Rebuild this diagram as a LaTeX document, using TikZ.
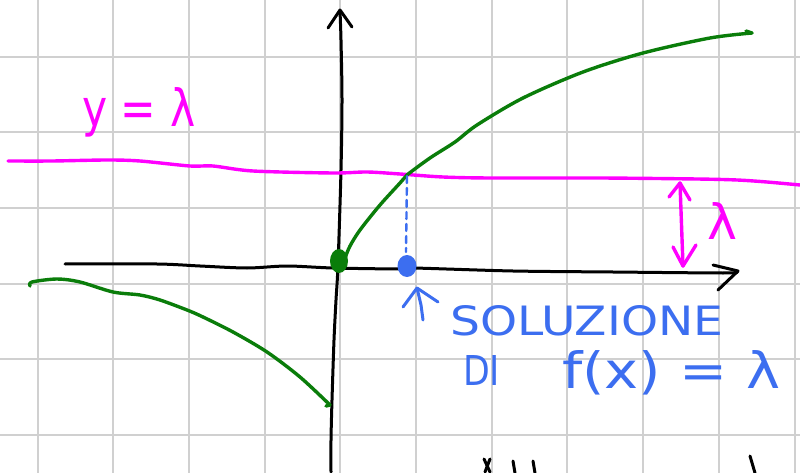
\documentclass[tikz,border=0pt]{standalone}
\usepackage{fontspec}
\setmainfont{DejaVu Sans}
\usepackage{graphicx}
\definecolor{gridgray}{RGB}{208,208,208}
\definecolor{mag}{RGB}{255,0,255}
\definecolor{grn}{RGB}{10,125,10}
\definecolor{blu}{RGB}{60,110,240}
\tikzset{
  gridline/.style={draw=gridgray,line width=2pt},
  axisline/.style={draw=black,line width=3pt,line cap=round,line join=round},
  curveline/.style={draw=grn,line width=3.4pt,line cap=round,line join=round},
  magline/.style={draw=mag,line width=3.4pt,line cap=round,line join=round},
  bluline/.style={draw=blu,line width=3pt,line cap=round,line join=round},
  txt/.style={inner sep=0pt,anchor=base west}
}
\begin{document}
\begin{tikzpicture}[x=1pt,y=-1pt]
\useasboundingbox (0,0) rectangle (800,473);
\fill[white] (0,0) rectangle (800,473);
% grid
\foreach \k in {0,...,10} {\draw[gridline] ({37.5+75.7*\k},0) -- ({37.5+75.7*\k},473);}
\foreach \k in {0,...,5} {\draw[gridline] (0,{56.7+75.6*\k}) -- (800,{56.7+75.6*\k});}
% y axis
\draw[axisline] plot[smooth] coordinates {(331,472) (331,440) (332,400) (334,340) (336,300) (338,265) (341,170) (342,100) (341,40) (340,11)};
\draw[axisline] (328,28) -- (340,10) -- (352,27);
% x axis
\draw[axisline] plot[smooth] coordinates {(65,264) (157,264) (200,266) (247,268) (287,266) (333,268) (400,269) (413,268) (513,271) (613,272) (723,273) (737,272)};
\draw[axisline] (713,265) -- (738,271) -- (718,290);
% y = lambda line
\draw[magline] plot[smooth] coordinates {(8,161) (52,161) (107,160) (140,161) (190,166) (213,166) (253,171) (333,173) (367,172) (400,174) (443,177) (490,178) (600,178) (697,179) (737,180) (767,182) (800,185)};
% green curves
\draw[curveline] plot[smooth] coordinates {(345,258) (350,246) (360,230) (380,205) (400,183) (407,175) (430,158) (455,142) (477,125) (523,98) (583,72) (643,53) (710,38) (752,33)};
\draw[curveline] (746,31) -- (752,33);
\draw[curveline] plot[smooth] coordinates {(30,286) (32,282) (57,279) (80,282) (113,292) (140,295) (160,300) (187,310) (203,317) (233,332) (267,352) (300,377) (330,405)};
\draw[curveline] (326,406) -- (330,405);
\fill[grn] (339,261) ellipse [x radius=9, y radius=12];
% blue dashed vertical and dot
\draw[bluline,line width=2.4pt,dash pattern=on 7pt off 5pt] (407,176) -- (406,252);
\fill[blu] (407,266) ellipse [x radius=9.5, y radius=11];
\draw[bluline] (403,307) -- (417,288) -- (438,302);
\draw[bluline] (417,288) -- (421,305) -- (423,320);
% magenta double arrow
\draw[magline] (680,183) -- (683,266);
\draw[magline] (669,197) -- (680,183) -- (690,200);
\draw[magline] (673,247) -- (683,266) -- (696,245);
% texts
\node[txt,text=mag] (ylab) at (82,127) {\resizebox{113pt}{39pt}{y = λ}};
\node[txt,text=mag] (lam) at (707,240) {\resizebox{30pt}{37pt}{λ}};
\node[txt,text=blu] (sol) at (450,335) {\resizebox{273pt}{30pt}{SOLUZIONE}};
\node[txt,text=blu] (di) at (463,385) {\resizebox{37pt}{30pt}{DI}};
\node[txt,text=blu] (fx) at (562,388) {\resizebox{218pt}{38pt}{f(x) = λ}};
% cut-off marks at bottom
\draw[axisline] (484,459) -- (490,472);
\draw[axisline] (490,459) -- (485,472);
\draw[axisline] (513,461) -- (515,473);
\draw[axisline] (533,461) -- (535,473);
\draw[axisline] (750,456) -- (755,473);
\end{tikzpicture}
\end{document}
